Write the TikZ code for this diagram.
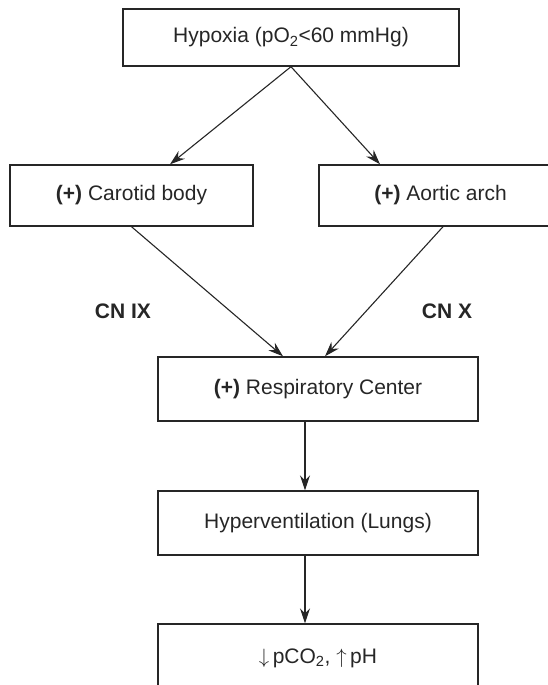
\documentclass[tikz,border=0pt]{standalone}
\usepackage{fontspec}
\setmainfont{Liberation Sans}
\usepackage{tikz}
\usetikzlibrary{arrows.meta}
\definecolor{C1}{RGB}{38,38,38}

\begin{document}
\begin{tikzpicture}[x=1pt,y=-1pt,
      box/.style={draw=C1,line width=1.4pt,
                  font=\fontsize{21}{25}\selectfont,text=C1,
                  align=center,inner sep=0pt,
                  minimum width=320pt,minimum height=64pt},
      lab/.style={font=\fontsize{21}{25}\selectfont\bfseries,text=C1},
      arr/.style={-{Stealth[length=15pt,width=10pt,inset=5pt]},
                  C1,line width=1.1pt}]
    \useasboundingbox (0,0) rectangle (547,685);
    \node[box,minimum width=336pt,minimum height=57pt] (hypox) at (291,37.5)
      {Hypoxia (pO\textsubscript{2}<60 mmHg)};
    \node[box,minimum width=243pt,minimum height=61pt] (carotid) at (131.5,195.5)
      {\textbf{(+)} Carotid body};
    \node[box,minimum width=243pt,minimum height=61pt] (aortic) at (440.5,195.5)
      {\textbf{(+)} Aortic arch};
    \node[box] (resp) at (318,389)
      {\textbf{(+)} Respiratory Center};
    \node[box] (hyperv) at (318,523)
      {Hyperventilation (Lungs)};
    \node[box,minimum height=68pt] (result) at (318,658)
      {$\downarrow$\,pCO\textsubscript{2}, $\uparrow$\,pH};
    \node[lab] (cn9) at (123,311) {CN IX};
    \node[lab] (cn10) at (447,311) {CN X};
    \draw[arr] (hypox.south) -- ([xshift=38.5pt]carotid.north);
    \draw[arr] (hypox.south) -- ([xshift=-60.5pt]aortic.north);
    \draw[arr] (carotid.south) -- ([xshift=-35pt]resp.north);
    \draw[arr] ([xshift=2.5pt]aortic.south) -- ([xshift=7pt]resp.north);
    \draw[arr] ([xshift=-13pt]resp.south) -- ([xshift=-13pt]hyperv.north);
    \draw[arr] ([xshift=-13pt]hyperv.south) -- ([xshift=-13pt]result.north);
  \end{tikzpicture}
\end{document}
